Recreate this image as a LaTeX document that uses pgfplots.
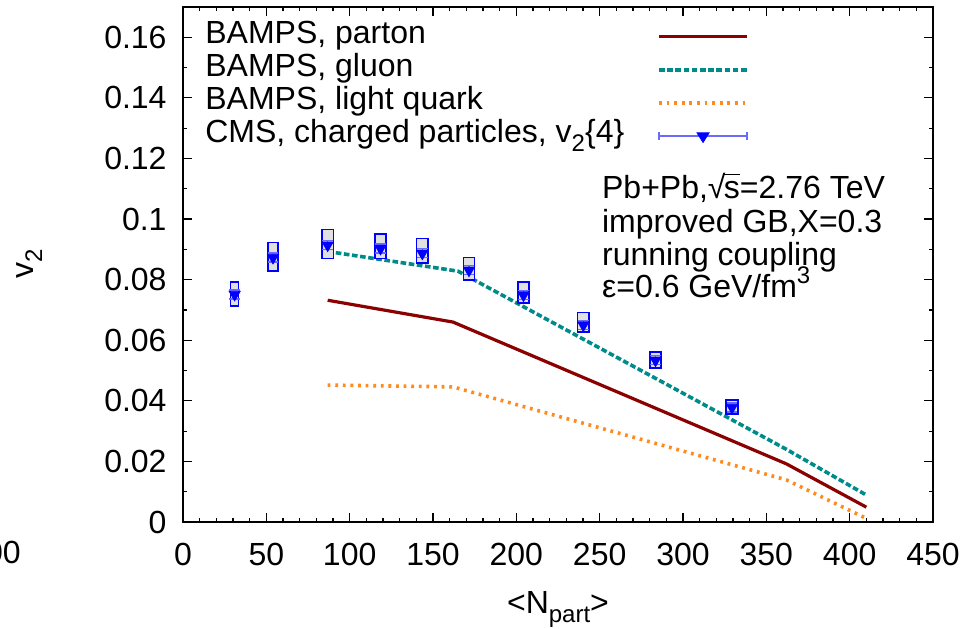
\documentclass[border=0pt]{standalone}
\usepackage{pgfplots}
\pgfplotsset{compat=1.18}
\usepackage{fontspec}
\setmainfont{Liberation Sans}
\definecolor{partoncol}{HTML}{8B0000}
\definecolor{gluoncol}{HTML}{008B8B}
\definecolor{quarkcol}{HTML}{FF8A1E}
\definecolor{cmsblue}{HTML}{0000FF}
\definecolor{cmserr}{HTML}{6A6AFF}
\definecolor{boxfill}{HTML}{E0E0E0}
\newcommand\sub[1]{\raisebox{-4.5pt}{\fontsize{12}{12}\selectfont #1}}
\newcommand\sups[1]{\raisebox{7pt}{\fontsize{12}{12}\selectfont #1}}
\newcommand\sqrts{√\kern-0.05em\rlap{\rule[0.74em]{0.5em}{0.055em}}s}
\pgfplotsset{boxst/.style={draw=cmsblue, line width=0.8pt, fill=boxfill, forget plot}}
\begin{document}
\begin{tikzpicture}[font=\fontsize{16}{16.5}\selectfont]
\begin{axis}[
  at={(91.5pt,53pt)}, anchor=south west,
  scale only axis, width=375pt, height=257.5pt,
  xmin=0, xmax=450, ymin=0, ymax=0.17,
  xtick={0,50,100,150,200,250,300,350,400,450},
  ytick={0,0.02,0.04,0.06,0.08,0.1,0.12,0.14,0.16},
  minor x tick num=4, minor y tick num=1,
  tick align=inside, xtick pos=both, ytick pos=both,
  xticklabel pos=left, yticklabel pos=left,
  major tick length=4.5pt, minor tick length=2.2pt,
  every tick/.style={black, line width=0.6pt},
  axis line style={line width=1pt},
  /pgf/number format/assume math mode=true,
  yticklabel style={/pgf/number format/fixed, /pgf/number format/precision=2, xshift=-4.7pt},
  xticklabel style={yshift=-7pt},
  xlabel={<N\sub{part}>},
  ylabel={v\sub{2}},
  every axis x label/.style={at={(axis description cs:0.5,-0.1773)}, anchor=base},
  every axis y label/.style={at={(axis description cs:-0.2,0.501)}, rotate=90, anchor=base},
  legend plot pos=right,
  legend cell align=left,
  legend style={at={(axis description cs:0.0293,0.9748)}, anchor=north west, draw=none, fill=none, inner sep=0pt, row sep=0pt, column sep=16.5pt, nodes={inner sep=0pt, text height=11.5pt, text depth=5pt}},
  legend image code/.code={\draw[#1] (0pt,0pt) -- (44pt,0pt);},
]
\addplot[partoncol, line width=1.6pt] coordinates {(86.8,0.0732) (162,0.0660) (362,0.0192) (410,0.0049)};
\addlegendentry{BAMPS, parton}
\addplot[gluoncol, line width=1.8pt, dash pattern=on 2.8pt off 1.3pt] coordinates {(86.8,0.0893) (165,0.0828) (362,0.0240) (410,0.0089)};
\addlegendentry{BAMPS, gluon}
\addplot[quarkcol, line width=1.8pt, dash pattern=on 1.4pt off 2.4pt] coordinates {(86.8,0.0452) (162,0.0446) (362,0.0139) (410,0.0012)};
\addlegendentry{BAMPS, light quark}
% systematic boxes
\addplot[boxst] coordinates {(28.6,0.0713) (33.4,0.0713) (33.4,0.0793) (28.6,0.0793)} -- cycle;
\addplot[boxst] coordinates {(51.0,0.0829) (57.0,0.0829) (57.0,0.0923) (51.0,0.0923)} -- cycle;
\addplot[boxst] coordinates {(83.4,0.0870) (90.2,0.0870) (90.2,0.0966) (83.4,0.0966)} -- cycle;
\addplot[boxst] coordinates {(115.1,0.0870) (121.9,0.0870) (121.9,0.0950) (115.1,0.0950)} -- cycle;
\addplot[boxst] coordinates {(140.2,0.0854) (147.0,0.0854) (147.0,0.0936) (140.2,0.0936)} -- cycle;
\addplot[boxst] coordinates {(168.2,0.0798) (175.0,0.0798) (175.0,0.0873) (168.2,0.0873)} -- cycle;
\addplot[boxst] coordinates {(200.9,0.0722) (207.7,0.0722) (207.7,0.0793) (200.9,0.0793)} -- cycle;
\addplot[boxst] coordinates {(236.8,0.0628) (243.6,0.0628) (243.6,0.0691) (236.8,0.0691)} -- cycle;
\addplot[boxst] coordinates {(280.1,0.0509) (286.9,0.0509) (286.9,0.0562) (280.1,0.0562)} -- cycle;
\addplot[boxst] coordinates {(325.7,0.0356) (333.1,0.0356) (333.1,0.0403) (325.7,0.0403)} -- cycle;
% CMS points
\addplot[cmsblue, only marks, mark=triangle*, mark size=3.2pt,
  mark options={rotate=180, fill=cmsblue, draw=cmsblue},
  legend image code/.code={
    \draw[cmserr, line width=0.8pt] (0pt,0pt) -- (44pt,0pt);
    \draw[cmserr, line width=0.8pt] (0pt,-2pt) -- (0pt,2pt);
    \draw[cmserr, line width=0.8pt] (44pt,-2pt) -- (44pt,2pt);
    \fill[cmsblue] (19pt,1.5pt) -- (25pt,1.5pt) -- (22pt,-3.3pt) -- cycle;
  },
  error bars/.cd, y dir=both, y explicit,
  error bar style={cmserr, line width=0.6pt},
  error mark options={rotate=90, cmserr, mark size=2.6pt, line width=0.6pt}]
  table[x=x, y=y, y error=e] {
x y e
31.0 0.0751 0.0015
54.0 0.0873 0.0015
86.8 0.0914 0.0015
118.5 0.0903 0.0015
143.6 0.0887 0.0015
171.6 0.0831 0.0015
204.3 0.0749 0.0015
240.2 0.0650 0.0015
283.5 0.0534 0.0015
329.4 0.0378 0.0015
};
\addlegendentry{CMS, charged particles, v\sub{2}\{4\}}
\node[anchor=base west, inner sep=0pt] at (rel axis cs:0.5583,0.6272) {Pb+Pb,\sqrts=2.76 TeV};
\node[anchor=base west, inner sep=0pt] at (rel axis cs:0.5583,0.5631) {improved GB,X=0.3};
\node[anchor=base west, inner sep=0pt] at (rel axis cs:0.5583,0.4990) {running coupling};
\node[anchor=base west, inner sep=0pt] at (rel axis cs:0.5583,0.4350) {ε=0.6 GeV/fm\sups{3}};
\end{axis}
\node[anchor=base east, inner sep=0pt] at (10.6pt,32.35pt) {00};
\pgfresetboundingbox
\useasboundingbox (0,0) rectangle (483pt,314pt);
\end{tikzpicture}
\end{document}
